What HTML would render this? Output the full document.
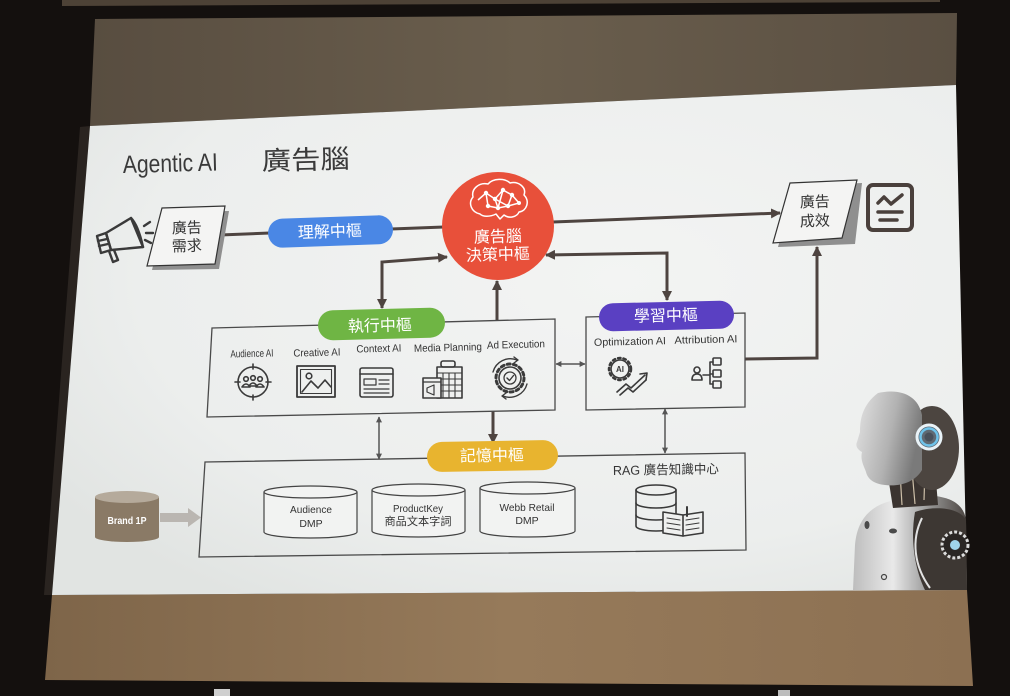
<!DOCTYPE html>
<html><head><meta charset="utf-8"><style>html,body{margin:0;padding:0;background:#14100e;width:1010px;height:696px;overflow:hidden}svg{display:block}</style></head>
<body>
<svg width="1010" height="696" viewBox="0 0 1010 696" xmlns="http://www.w3.org/2000/svg">
<defs>
<radialGradient id="sl" cx="0.62" cy="0.38" r="0.75"><stop offset="0" stop-color="#f3f4f3"/><stop offset="0.7" stop-color="#eceeed"/><stop offset="1" stop-color="#e1e4e2"/></radialGradient>
<linearGradient id="tb" x1="0" y1="0" x2="1" y2="0"><stop offset="0" stop-color="#584d40"/><stop offset="0.5" stop-color="#6a5e4d"/><stop offset="1" stop-color="#5a4f42"/></linearGradient>
<linearGradient id="bb" x1="0" y1="0" x2="1" y2="0"><stop offset="0" stop-color="#7e6549"/><stop offset="0.5" stop-color="#967a5a"/><stop offset="1" stop-color="#8c7052"/></linearGradient>
<linearGradient id="face" x1="0" y1="0" x2="1" y2="0.3"><stop offset="0" stop-color="#e4e4e4"/><stop offset="0.6" stop-color="#b2b2b2"/><stop offset="1" stop-color="#7a7a7a"/></linearGradient>
<linearGradient id="torso" x1="0" y1="0" x2="1" y2="0"><stop offset="0" stop-color="#bdbdbd"/><stop offset="0.35" stop-color="#e9e9e9"/><stop offset="0.6" stop-color="#a8a8a8"/><stop offset="1" stop-color="#4a4440"/></linearGradient>
<marker id="a" viewBox="0 0 10 10" refX="9" refY="5" markerWidth="10" markerHeight="10" markerUnits="userSpaceOnUse" orient="auto-start-reverse"><path d="M0,0 L10,5 L0,10 z" fill="#4e4440"/></marker>
<marker id="s" viewBox="0 0 10 10" refX="9" refY="5" markerWidth="6" markerHeight="6" markerUnits="userSpaceOnUse" orient="auto-start-reverse"><path d="M0,0 L10,5 L0,10 z" fill="#555"/></marker>
</defs>

<!-- background / screen -->
<rect width="1010" height="696" fill="#14100e"/>
<polygon points="62,0 940,0 940,2 62,6" fill="#4d4236"/>
<polygon points="95,19 957,13 956,85 90,126" fill="url(#tb)"/>
<polygon points="80,127 90,126 52,595 44,595" fill="#2a2420"/>
<polygon points="52,595 967,590 973,686 45,680" fill="url(#bb)"/>
<polygon points="90,126 956,85 967,590 52,595" fill="url(#sl)"/>
<rect x="214" y="689" width="16" height="7" fill="#cfcfcf"/>
<rect x="778" y="690" width="12" height="6" fill="#bdbdbd"/>

<!-- robot -->
<g>
<path d="M853,590 L855,545 C857,520 870,505 895,500 L935,496 C952,498 964,505 966,520 L967,590 Z" fill="url(#torso)"/>
<path d="M915,512 C935,505 960,508 966,520 L967,590 L925,590 C915,570 910,540 915,512 Z" fill="#3d3733"/>
<path d="M922,518 C911,540 914,566 930,588" stroke="#e2e2e2" stroke-width="2" fill="none"/>
<circle cx="955" cy="545" r="13" fill="#2a2624" stroke="#dcdcdc" stroke-width="3" stroke-dasharray="3 2"/>
<circle cx="955" cy="545" r="5" fill="#9fd4ea"/>
<ellipse cx="893" cy="531" rx="4" ry="2.5" fill="#4a4a4a"/>
<ellipse cx="867" cy="525" rx="2.5" ry="4" fill="#4a4a4a"/>
<circle cx="884" cy="577" r="2.5" fill="none" stroke="#444" stroke-width="1.2"/>
<path d="M887,470 L935,468 L938,505 L893,508 Z" fill="#3b3430"/>
<path d="M900,472 L902,505 M912,470 L915,504 M925,470 L924,500" stroke="#cdbfa8" stroke-width="1.2"/>
<ellipse cx="932" cy="448" rx="27" ry="42" fill="#4c4540"/>
<path d="M878,393 C900,388 918,395 922,415 L922,470 C915,482 900,487 885,485 C875,484 868,480 866,472 C864,466 860,460 862,452 C858,450 855,446 857,442 L860,432 C860,420 862,405 878,393 Z" fill="url(#face)"/>
<circle cx="929" cy="437" r="12" fill="#5f6a74" stroke="#e9f3f8" stroke-width="3"/>
<circle cx="929" cy="437" r="8.5" fill="none" stroke="#6fc3ea" stroke-width="2.5"/>
<circle cx="929" cy="437" r="4.5" fill="#48505a"/>
</g>

<!-- connectors -->
<g fill="none" stroke="#4e4440" stroke-width="3">
<line x1="220" y1="235" x2="270" y2="233"/>
<line x1="391" y1="229" x2="444" y2="227"/>
<line x1="553" y1="222" x2="780" y2="213" marker-end="url(#a)"/>
<path d="M382,308 L382,262 L447,257" marker-start="url(#a)" marker-end="url(#a)"/>
<line x1="497" y1="320" x2="497" y2="281" marker-end="url(#a)"/>
<path d="M667,300 L667,253 L546,255" marker-start="url(#a)" marker-end="url(#a)"/>
<path d="M745,359 L817,358 L817,247" marker-end="url(#a)"/>
<line x1="493" y1="411" x2="493" y2="443" marker-end="url(#a)"/>
</g>
<g fill="none" stroke="#555" stroke-width="1.5">
<line x1="556" y1="364" x2="585" y2="364" marker-start="url(#s)" marker-end="url(#s)"/>
<line x1="379" y1="417" x2="379" y2="459" marker-start="url(#s)" marker-end="url(#s)"/>
<line x1="665" y1="409" x2="665" y2="453" marker-start="url(#s)" marker-end="url(#s)"/>
</g>

<!-- boxes -->
<g fill="none" stroke="#4a4a4a" stroke-width="1.3">
<polygon points="212,328 555,319 555,410 207,417"/>
<polygon points="586,317 745,313 745,407 586,410"/>
<polygon points="205,462 745,453 746,550 199,557"/>
</g>

<!-- parallelograms -->
<polygon points="166,212 229,211 219,269 152,270" fill="#8f8f8f"/>
<polygon points="162,208 225,206 215,264 147,266" fill="#f4f4f3" stroke="#333" stroke-width="1.2"/>
<polygon points="795,186 862,183 855,244 778,247" fill="#8f8f8f"/>
<polygon points="790,183 857,180 842,238 773,243" fill="#f4f4f3" stroke="#333" stroke-width="1.2"/>

<!-- megaphone -->
<g fill="none" stroke="#3a3a3a" stroke-width="2.4" stroke-linejoin="round" stroke-linecap="round">
<polygon points="106,233 131,218 143,247 111,250"/>
<path d="M131,218 C137,224 141,238 143,247"/>
<polygon points="97,236 106,233 111,250 101,253"/>
<path d="M98,241 L107,239 M99,246 L108,244"/>
<path d="M109,251 L113,262 L118,260 L114,250"/>
<path d="M144,226 L150,222 M146,233 L153,233 M145,240 L151,243"/>
</g>

<!-- chart icon -->
<g fill="none" stroke="#4a403c" stroke-width="4" stroke-linecap="round" stroke-linejoin="round">
<rect x="868" y="185" width="44" height="45" rx="5"/>
<polyline points="878,203 884,197 891,204 902,195" stroke-width="3.5"/>
<line x1="878" y1="212" x2="902" y2="212" stroke-width="3.5"/>
<line x1="880" y1="220" x2="897" y2="220" stroke-width="3.5"/>
</g>

<!-- brain circle -->
<ellipse cx="498" cy="226" rx="56" ry="54" fill="#e8503a"/>
<g fill="none" stroke="#fff" stroke-width="1.5" stroke-linejoin="round">
<path d="M480,214 C471,212 468,203 473,197 C471,189 479,182 488,184 C493,178 505,178 510,183 C518,181 527,187 524,195 C530,201 527,211 519,212 C517,217 509,219 504,215 L500,219 L496,214 C490,217 483,217 480,214 Z"/>
<polyline points="478,200 486,193 495,199 503,190 512,195 519,203 508,206 498,208 488,206 486,193"/>
<polyline points="495,199 498,208 M503,190 508,206"/>
<line x1="495" y1="199" x2="508" y2="206"/>
<line x1="503" y1="190" x2="498" y2="208"/>
<line x1="512" y1="195" x2="508" y2="206"/>
</g>
<g fill="#fff">
<circle cx="486" cy="193" r="2.2"/><circle cx="495" cy="199" r="2.2"/><circle cx="503" cy="190" r="2.2"/><circle cx="512" cy="195" r="2.2"/><circle cx="508" cy="206" r="2.2"/><circle cx="498" cy="208" r="2.2"/><circle cx="488" cy="206" r="2.2"/><circle cx="519" cy="203" r="2"/>
</g>

<!-- pills -->
<rect x="268" y="217" width="125" height="29" rx="14.5" fill="#4a87e5" transform="rotate(-2 330 231)"/>
<rect x="318" y="309" width="127" height="30" rx="15" fill="#6fb544" transform="rotate(-1.5 381 324)"/>
<rect x="599" y="302" width="135" height="28" rx="14" fill="#5a40c2" transform="rotate(-1.3 666 316)"/>
<rect x="427" y="441" width="131" height="30" rx="15" fill="#e8b42f" transform="rotate(-1 492 456)"/>

<!-- Brand 1P -->
<path d="M95,497 L95,537 A32,5 0 0 0 159,537 L159,497 Z" fill="#8a7a66"/>
<ellipse cx="127" cy="497" rx="32" ry="6" fill="#b5aa9b"/>
<polygon points="160,513 188,513 188,508 201,517.5 188,527 188,522 160,522" fill="#bab6b1"/>

<!-- cylinders -->
<g fill="#f2f3f2" stroke="#444" stroke-width="1.2">
<path d="M264,492 L264,532 A46.5,6 0 0 0 357,532 L357,492"/>
<ellipse cx="310.5" cy="492" rx="46.5" ry="6"/>
<path d="M372,490 L372,531 A46.5,6 0 0 0 465,531 L465,490"/>
<ellipse cx="418.5" cy="490" rx="46.5" ry="6"/>
<path d="M480,488 L480,531 A47.5,6 0 0 0 575,531 L575,488"/>
<ellipse cx="527.5" cy="488" rx="47.5" ry="6"/>
</g>

<!-- execution icons -->
<g fill="none" stroke="#3a3a3a" stroke-width="1.6" stroke-linecap="round" stroke-linejoin="round">
<!-- audience -->
<circle cx="253" cy="382" r="15"/>
<path d="M253,364 L253,369 M253,395 L253,400 M235,382 L240,382 M266,382 L271,382"/>
<circle cx="246" cy="379" r="2.3"/><circle cx="253" cy="378" r="2.3"/><circle cx="260" cy="379" r="2.3"/>
<path d="M242,387 Q246,381 250,387 Z M249,386 Q253,380 257,386 Z M256,387 Q260,381 264,387 Z"/>
<!-- creative -->
<rect x="297" y="366" width="38" height="31" stroke-width="1.8"/>
<rect x="300.5" y="369.5" width="31" height="24" stroke-width="1.1"/>
<polyline points="302,392 311,381 318,388 325,380 331,387"/>
<circle cx="309" cy="376" r="2.8"/>
<!-- context -->
<rect x="360" y="368" width="33" height="29" rx="2"/>
<line x1="360" y1="374" x2="393" y2="374"/>
<rect x="364" y="379" width="12" height="6" stroke-width="1.2"/>
<path d="M379,380 L389,380 M379,384 L389,384 M364,389 L389,389 M364,393 L389,393" stroke-width="1.2"/>
<!-- media planning -->
<rect x="437" y="367" width="25" height="31"/>
<rect x="441" y="361" width="14" height="6" rx="2"/>
<path d="M443,373 L443,398 M449,373 L449,398 M455,373 L455,398 M437,373 L462,373 M437,379 L462,379 M437,385 L462,385 M437,391 L462,391" stroke-width="1.1"/>
<rect x="423" y="378" width="18" height="20" fill="#eeefee"/>
<path d="M423,382 L441,382" stroke-width="1.2"/>
<polygon points="427,388 434,385 434,395 427,392" stroke-width="1.2"/>
<!-- ad execution -->
<circle cx="510" cy="378" r="11"/>
<circle cx="510" cy="378" r="14" stroke-width="3" stroke-dasharray="3 3.3"/>
<circle cx="510" cy="378" r="6" stroke-width="1.3"/>
<path d="M507,378 L509.5,380.5 L513.5,375.5" stroke-width="1.4"/>
<path d="M493,372 A18,18 0 0 1 517,360" stroke-width="1.4"/>
<path d="M527,384 A18,18 0 0 1 503,396" stroke-width="1.4"/>
<path d="M514,357 L518,360 L514,363 M506,399 L502,396 L506,393" stroke-width="1.4"/>
<!-- optimization -->
<circle cx="620" cy="369" r="9"/>
<circle cx="620" cy="369" r="11" stroke-width="2.5" stroke-dasharray="2.5 3"/>
<polyline points="617,392 626,384 631,388 645,375"/>
<polyline points="620,395 628,388 633,392 646,380"/>
<path d="M640,374 L647,373 L646,380"/>
<!-- attribution -->
<circle cx="697" cy="370" r="3"/>
<path d="M692,380 Q692,374 697,374 Q702,374 702,380 Z"/>
<path d="M703,375 L710,375 M710,362 L710,384 M710,362 L713,362 M710,374 L713,374 M710,384 L713,384"/>
<rect x="713" y="358" width="8" height="7" rx="1"/>
<rect x="713" y="370" width="8" height="7" rx="1"/>
<rect x="713" y="381" width="8" height="7" rx="1"/>
<!-- RAG -->
<ellipse cx="656" cy="490" rx="20" ry="5"/>
<path d="M636,490 L636,526 A20,5 0 0 0 676,526 L676,490"/>
<path d="M636,503 A20,5 0 0 0 676,503 M636,515 A20,5 0 0 0 676,515"/>
<path d="M663,512 L683,515 L703,512 L703,533 L683,536 L663,533 Z" fill="#eff0ef"/>
<line x1="683" y1="515" x2="683" y2="536"/>
<path d="M667,518 L680,520 M667,523 L680,525 M667,528 L680,530 M686,520 L699,518 M686,525 L699,523 M686,530 L699,528" stroke-width="1.1"/>
<path d="M687,507 L687,516" stroke-width="2"/>
</g>
<text x="620" y="372" font-family="Liberation Sans, sans-serif" font-size="8" font-weight="bold" fill="#3a3a3a" text-anchor="middle">AI</text>

<!-- text -->
<g font-family="'Liberation Sans','Noto Sans CJK TC',sans-serif" fill="#353535">
<text x="123" y="173" font-size="25" textLength="95" lengthAdjust="spacingAndGlyphs" transform="rotate(-1.5 123 173)" fill="#3a3a3a">Agentic AI</text>
<text x="262" y="170" font-size="26" textLength="88" lengthAdjust="spacingAndGlyphs" transform="rotate(-1.5 262 170)" fill="#3a3a3a">廣告腦</text>

<text x="187" y="233" font-size="15" text-anchor="middle" transform="rotate(-2 187 233)">廣告</text>
<text x="187" y="251" font-size="15" text-anchor="middle" transform="rotate(-2 187 251)">需求</text>
<text x="815" y="207" font-size="15" text-anchor="middle" transform="rotate(-2 815 207)">廣告</text>
<text x="815" y="226" font-size="15" text-anchor="middle" transform="rotate(-2 815 226)">成效</text>

<g fill="#ffffff" font-size="16" text-anchor="middle">
<text x="330" y="237" transform="rotate(-2 330 237)">理解中樞</text>
<text x="380" y="331" transform="rotate(-1.5 380 331)">執行中樞</text>
<text x="666" y="321" transform="rotate(-1.3 666 321)">學習中樞</text>
<text x="492" y="461" transform="rotate(-1 492 461)">記憶中樞</text>
<text x="498" y="242" transform="rotate(-1.8 498 242)">廣告腦</text>
<text x="498" y="260" transform="rotate(-1.8 498 260)">決策中樞</text>
</g>

<g font-size="10.5" text-anchor="middle" fill="#333">
<text x="252" y="357" textLength="43" lengthAdjust="spacingAndGlyphs" transform="rotate(-1.4 252 357)">Audience AI</text>
<text x="317" y="356" textLength="47" lengthAdjust="spacingAndGlyphs" transform="rotate(-1.4 317 356)">Creative AI</text>
<text x="379" y="352" textLength="45" lengthAdjust="spacingAndGlyphs" transform="rotate(-1.4 379 352)">Context AI</text>
<text x="448" y="351" textLength="68" lengthAdjust="spacingAndGlyphs" transform="rotate(-1.4 448 351)">Media Planning</text>
<text x="516" y="348" textLength="58" lengthAdjust="spacingAndGlyphs" transform="rotate(-1.4 516 348)">Ad Execution</text>
<text x="630" y="345" textLength="72" lengthAdjust="spacingAndGlyphs" transform="rotate(-1.3 630 345)">Optimization AI</text>
<text x="706" y="343" textLength="63" lengthAdjust="spacingAndGlyphs" transform="rotate(-1.3 706 343)">Attribution AI</text>

<text x="311" y="513" textLength="42" lengthAdjust="spacingAndGlyphs">Audience</text>
<text x="311" y="527">DMP</text>
<text x="418" y="512" textLength="50" lengthAdjust="spacingAndGlyphs">ProductKey</text>
<text x="418" y="525" font-size="11" textLength="67" lengthAdjust="spacingAndGlyphs">商品文本字詞</text>
<text x="527" y="511" textLength="55" lengthAdjust="spacingAndGlyphs">Webb Retail</text>
<text x="527" y="524">DMP</text>
</g>
<text x="613" y="475" font-size="13" textLength="106" lengthAdjust="spacingAndGlyphs" transform="rotate(-0.9 613 475)">RAG 廣告知識中心</text>
<text x="127" y="524" font-size="10.5" font-weight="bold" fill="#ffffff" text-anchor="middle" textLength="39" lengthAdjust="spacingAndGlyphs">Brand 1P</text>
</g>
</svg>
</body></html>
